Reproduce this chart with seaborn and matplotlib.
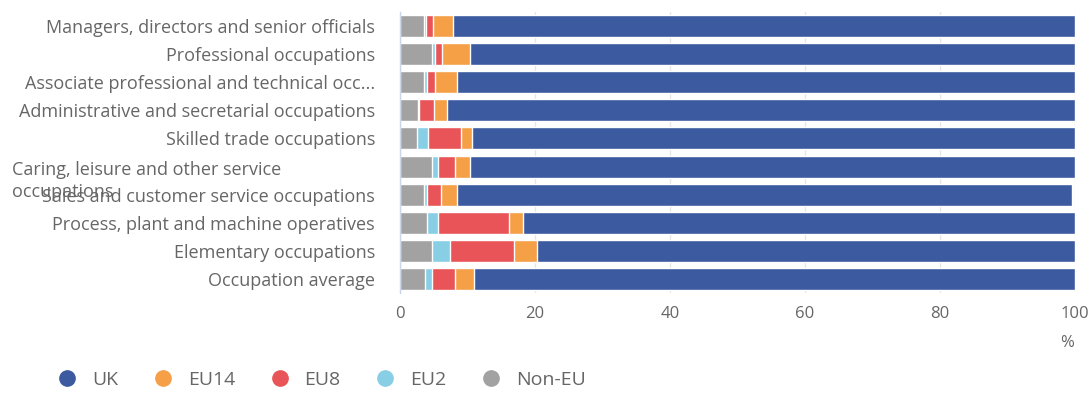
import numpy as np
import matplotlib
matplotlib.use("Agg")
import matplotlib.pyplot as plt
from matplotlib.lines import Line2D
from matplotlib.transforms import blended_transform_factory
import seaborn as sns

# Share of workers in each occupation group by country of birth (%)
occupations = [
    "Managers, directors and senior officials",
    "Professional occupations",
    "Associate professional and technical occupations",
    "Administrative and secretarial occupations",
    "Skilled trade occupations",
    "Caring, leisure and other service occupations",
    "Sales and customer service occupations",
    "Process, plant and machine operatives",
    "Elementary occupations",
    "Occupation average",
]
tick_labels = [
    "Managers, directors and senior officials",
    "Professional occupations",
    "Associate professional and technical occ...",
    "Administrative and secretarial occupations",
    "Skilled trade occupations",
    "",
    "Sales and customer service occupations",
    "Process, plant and machine operatives",
    "Elementary occupations",
    "Occupation average",
]
wrapped_label = "Caring, leisure and other service\noccupations"

non_eu = [3.5, 4.7, 3.5, 2.6, 2.5, 4.7, 3.5, 4.0, 4.7, 3.7]
eu2 = [0.3, 0.5, 0.5, 0.2, 1.7, 1.0, 0.5, 1.7, 2.7, 1.0]
eu8 = [1.1, 1.0, 1.2, 2.2, 4.9, 2.5, 2.0, 10.5, 9.5, 3.5]
eu14 = [3.0, 4.1, 3.2, 2.0, 1.5, 2.1, 2.5, 2.0, 3.4, 2.7]
uk = [92.1, 89.7, 91.6, 93.0, 89.4, 89.7, 91.0, 81.8, 79.7, 89.1]

series = {"Non-EU": non_eu, "EU2": eu2, "EU8": eu8, "EU14": eu14, "UK": uk}
legend_order = ["UK", "EU14", "EU8", "EU2", "Non-EU"]
colors = {
    "UK": "#3c5a9f",
    "EU14": "#f59f47",
    "EU8": "#e85457",
    "EU2": "#88cfe6",
    "Non-EU": "#a2a2a2",
}

sns.set_style("white")
plt.rcParams["font.family"] = ["Open Sans", "DejaVu Sans"]
text_color = "#666666"
axis_color = "#ccd6eb"

fig = plt.figure(figsize=(10.92, 3.94), dpi=100)
ax = fig.add_axes([400 / 1092, 1 - 293 / 394, 675 / 1092, 281 / 394])

# Stacked bars: draw running totals from the widest layer down
running = np.zeros(len(occupations))
totals = {}
for name in ["Non-EU", "EU2", "EU8", "EU14", "UK"]:
    running = running + np.array(series[name])
    totals[name] = running.copy()

for name in ["UK", "EU14", "EU8", "EU2", "Non-EU"]:
    sns.barplot(
        x=list(totals[name]), y=occupations, orient="h",
        color=colors[name], saturation=1, width=0.78,
        edgecolor="white", linewidth=1, errorbar=None, ax=ax,
    )

ax.set_xlim(0, 100)
ax.set_ylim(len(occupations) - 0.5, -0.5)
ax.set_xticks(np.arange(0, 101, 20))
ax.xaxis.grid(True, color="#e6e6e6", linewidth=1)
ax.yaxis.grid(False)
ax.set_axisbelow(True)
ax.set_xlabel("")
ax.set_ylabel("")

for side in ["top", "right", "bottom"]:
    ax.spines[side].set_visible(False)
ax.spines["left"].set_color(axis_color)
ax.spines["left"].set_linewidth(1)

ax.set_yticks(np.arange(len(occupations)))
ax.set_yticklabels(tick_labels)
ax.set_yticks(np.arange(-0.5, len(occupations)), minor=True)
ax.tick_params(axis="y", which="major", length=0, pad=18,
               labelsize=13, labelcolor=text_color)
ax.tick_params(axis="y", which="minor", length=12, width=1, color=axis_color)
ax.tick_params(axis="x", length=0, pad=9, labelsize=12, labelcolor=text_color)

# Wrapped category label, left-aligned at the figure edge
trans = blended_transform_factory(fig.transFigure, ax.transData)
ax.text(12 / 1092, 5 - 0.2, wrapped_label, transform=trans, ha="left",
        va="top", fontsize=13, color=text_color, linespacing=1.3,
        clip_on=False)

fig.text(1067 / 1092, 1 - 343 / 394, "%", ha="center", va="center",
         fontsize=12, color=text_color)

handles = [
    Line2D([], [], marker="o", linestyle="", markersize=11,
           markerfacecolor=colors[n], markeredgecolor=colors[n])
    for n in legend_order
]
fig.legend(handles, legend_order, loc="center left",
           bbox_to_anchor=(60 / 1092, 1 - 380 / 394), ncol=5, frameon=False,
           fontsize=14, labelcolor=text_color, handlelength=0.77,
           handletextpad=0.9, columnspacing=1.9, borderpad=0,
           borderaxespad=0)

fig.savefig("out.png", dpi=100)
